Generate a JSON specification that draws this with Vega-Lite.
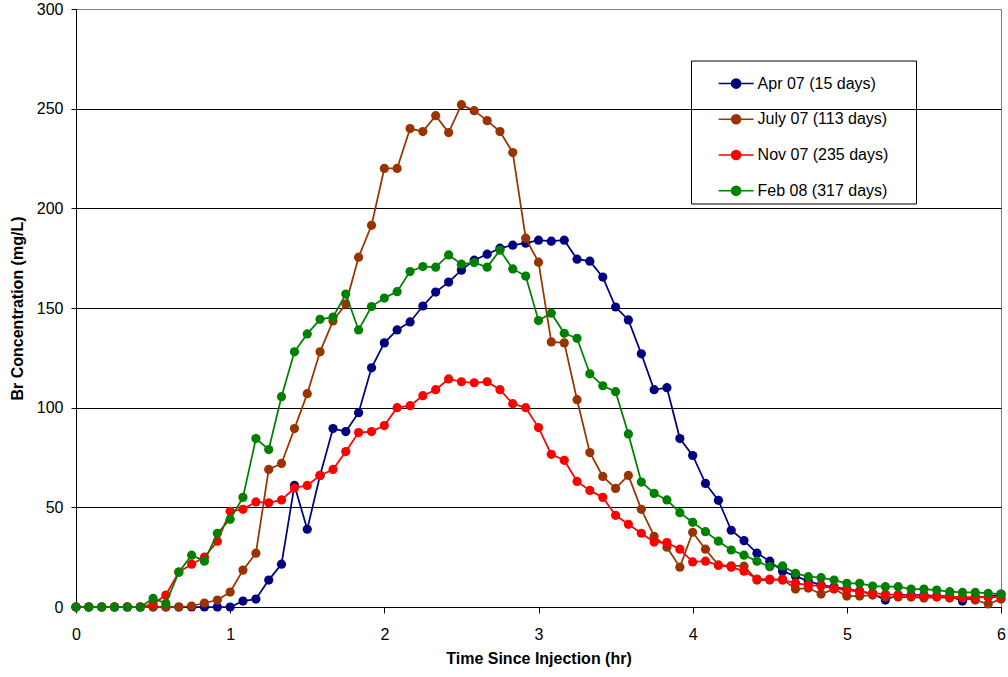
{
  "$schema": "https://vega.github.io/schema/vega-lite/v6.json",
  "width": 925,
  "height": 598,
  "autosize": {"type": "none"},
  "padding": {"left": 76, "top": 9, "right": 7, "bottom": 70},
  "background": "white",
  "config": {
    "font": "Liberation Sans",
    "view": {"stroke": "#808080", "strokeWidth": 1},
    "axis": {
      "labelFont": "Liberation Sans",
      "labelFontSize": 16,
      "labelColor": "#000",
      "labelFlush": false,
      "titleFont": "Liberation Sans",
      "titleFontSize": 16,
      "titleFontWeight": "bold",
      "titleColor": "#000",
      "domainColor": "#000",
      "tickColor": "#000",
      "domainWidth": 1,
      "tickWidth": 1
    }
  },
  "datasets": {
    "apr": [
      {"t":0,"c":0},{"t":0.083,"c":0},{"t":0.167,"c":0},{"t":0.25,"c":0},{"t":0.333,"c":0},{"t":0.417,"c":0},
      {"t":0.5,"c":0},{"t":0.583,"c":0},{"t":0.667,"c":0},{"t":0.75,"c":0},{"t":0.833,"c":0},{"t":0.917,"c":0},
      {"t":1,"c":0},{"t":1.083,"c":3},{"t":1.167,"c":4},{"t":1.25,"c":13.5},{"t":1.333,"c":21.5},{"t":1.417,"c":61},
      {"t":1.5,"c":39},{"t":1.583,"c":66},{"t":1.667,"c":89.5},{"t":1.75,"c":88},{"t":1.833,"c":97.5},{"t":1.917,"c":120},
      {"t":2,"c":132.5},{"t":2.083,"c":139},{"t":2.167,"c":143},{"t":2.25,"c":151},{"t":2.333,"c":158},{"t":2.417,"c":163},
      {"t":2.5,"c":169},{"t":2.583,"c":174},{"t":2.667,"c":177},{"t":2.75,"c":180},{"t":2.833,"c":181.5},{"t":2.917,"c":182.5},
      {"t":3,"c":184},{"t":3.083,"c":183.5},{"t":3.167,"c":184},{"t":3.25,"c":174.5},{"t":3.333,"c":173.5},{"t":3.417,"c":165.5},
      {"t":3.5,"c":150.5},{"t":3.583,"c":144},{"t":3.667,"c":127},{"t":3.75,"c":109},{"t":3.833,"c":110},{"t":3.917,"c":84.5},
      {"t":4,"c":76},{"t":4.083,"c":62},{"t":4.167,"c":53.5},{"t":4.25,"c":38.5},{"t":4.333,"c":33.3},{"t":4.417,"c":27},
      {"t":4.5,"c":23},{"t":4.583,"c":18},{"t":4.667,"c":15.5},{"t":4.75,"c":13},{"t":4.833,"c":11},{"t":4.917,"c":10},
      {"t":5,"c":9},{"t":5.083,"c":8},{"t":5.167,"c":6.5},{"t":5.25,"c":3.5},{"t":5.333,"c":6},{"t":5.417,"c":6},
      {"t":5.5,"c":6},{"t":5.583,"c":5.5},{"t":5.667,"c":5.5},{"t":5.75,"c":3},{"t":5.833,"c":5},{"t":5.917,"c":5},
      {"t":6,"c":6.5}
    ],
    "jul": [
      {"t":0,"c":0},{"t":0.083,"c":0},{"t":0.167,"c":0},{"t":0.25,"c":0},{"t":0.333,"c":0},{"t":0.417,"c":0},
      {"t":0.5,"c":0},{"t":0.583,"c":0},{"t":0.667,"c":0},{"t":0.75,"c":0.5},{"t":0.833,"c":2},{"t":0.917,"c":3.5},
      {"t":1,"c":7.5},{"t":1.083,"c":18.5},{"t":1.167,"c":27},{"t":1.25,"c":69},{"t":1.333,"c":72},{"t":1.417,"c":89.5},
      {"t":1.5,"c":107},{"t":1.583,"c":128},{"t":1.667,"c":143.5},{"t":1.75,"c":152},{"t":1.833,"c":175.5},{"t":1.917,"c":191.5},
      {"t":2,"c":220},{"t":2.083,"c":220},{"t":2.167,"c":240},{"t":2.25,"c":238.5},{"t":2.333,"c":246.5},{"t":2.417,"c":238},
      {"t":2.5,"c":252},{"t":2.583,"c":249},{"t":2.667,"c":244},{"t":2.75,"c":238.5},{"t":2.833,"c":228},{"t":2.917,"c":185},
      {"t":3,"c":173},{"t":3.083,"c":133},{"t":3.167,"c":132.5},{"t":3.25,"c":104},{"t":3.333,"c":77.5},{"t":3.417,"c":65.5},
      {"t":3.5,"c":59.5},{"t":3.583,"c":66},{"t":3.667,"c":49},{"t":3.75,"c":35.5},{"t":3.833,"c":30},{"t":3.917,"c":20},
      {"t":4,"c":37.5},{"t":4.083,"c":29},{"t":4.167,"c":21},{"t":4.25,"c":20.7},{"t":4.333,"c":20.5},{"t":4.417,"c":13.5},
      {"t":4.5,"c":13.5},{"t":4.583,"c":14},{"t":4.667,"c":9},{"t":4.75,"c":9.5},{"t":4.833,"c":6.5},{"t":4.917,"c":9},
      {"t":5,"c":5.5},{"t":5.083,"c":5.5},{"t":5.167,"c":6},{"t":5.25,"c":5},{"t":5.333,"c":5},{"t":5.417,"c":5},
      {"t":5.5,"c":4.5},{"t":5.583,"c":5},{"t":5.667,"c":4.5},{"t":5.75,"c":4.5},{"t":5.833,"c":3.5},{"t":5.917,"c":1.5},
      {"t":6,"c":4}
    ],
    "nov": [
      {"t":0,"c":0},{"t":0.083,"c":0},{"t":0.167,"c":0},{"t":0.25,"c":0},{"t":0.333,"c":0},{"t":0.417,"c":0},
      {"t":0.5,"c":1.5},{"t":0.583,"c":6},{"t":0.667,"c":17.5},{"t":0.75,"c":21.5},{"t":0.833,"c":25},{"t":0.917,"c":33},
      {"t":1,"c":48},{"t":1.083,"c":49},{"t":1.167,"c":52.7},{"t":1.25,"c":52.3},{"t":1.333,"c":53.7},{"t":1.417,"c":59.7},
      {"t":1.5,"c":61},{"t":1.583,"c":66},{"t":1.667,"c":69},{"t":1.75,"c":78},{"t":1.833,"c":87.5},{"t":1.917,"c":88},
      {"t":2,"c":91},{"t":2.083,"c":100},{"t":2.167,"c":101},{"t":2.25,"c":106},{"t":2.333,"c":109},{"t":2.417,"c":114.4},
      {"t":2.5,"c":113},{"t":2.583,"c":112.5},{"t":2.667,"c":113},{"t":2.75,"c":109},{"t":2.833,"c":102},{"t":2.917,"c":100},
      {"t":3,"c":90},{"t":3.083,"c":76.6},{"t":3.167,"c":73.6},{"t":3.25,"c":63},{"t":3.333,"c":58.5},{"t":3.417,"c":55},
      {"t":3.5,"c":46},{"t":3.583,"c":41.5},{"t":3.667,"c":37},{"t":3.75,"c":32.6},{"t":3.833,"c":32.3},{"t":3.917,"c":29},
      {"t":4,"c":22.6},{"t":4.083,"c":23},{"t":4.167,"c":21},{"t":4.25,"c":20},{"t":4.333,"c":18},{"t":4.417,"c":14},
      {"t":4.5,"c":14},{"t":4.583,"c":13.5},{"t":4.667,"c":12},{"t":4.75,"c":11},{"t":4.833,"c":10.5},{"t":4.917,"c":9.4},
      {"t":5,"c":8.5},{"t":5.083,"c":7.7},{"t":5.167,"c":7},{"t":5.25,"c":6.4},{"t":5.333,"c":6},{"t":5.417,"c":5.7},
      {"t":5.5,"c":5.5},{"t":5.583,"c":5.2},{"t":5.667,"c":5.2},{"t":5.75,"c":5},{"t":5.833,"c":5},{"t":5.917,"c":5},
      {"t":6,"c":5}
    ],
    "feb": [
      {"t":0,"c":0},{"t":0.083,"c":0},{"t":0.167,"c":0},{"t":0.25,"c":0},{"t":0.333,"c":0},{"t":0.417,"c":0},
      {"t":0.5,"c":4.3},{"t":0.583,"c":1.8},{"t":0.667,"c":17.5},{"t":0.75,"c":26},{"t":0.833,"c":23},{"t":0.917,"c":37},
      {"t":1,"c":44},{"t":1.083,"c":55},{"t":1.167,"c":84.5},{"t":1.25,"c":79},{"t":1.333,"c":105.5},{"t":1.417,"c":128},
      {"t":1.5,"c":137},{"t":1.583,"c":144.3},{"t":1.667,"c":145.4},{"t":1.75,"c":157},{"t":1.833,"c":139},{"t":1.917,"c":150.7},
      {"t":2,"c":155},{"t":2.083,"c":158.2},{"t":2.167,"c":168.3},{"t":2.25,"c":170.8},{"t":2.333,"c":170.5},{"t":2.417,"c":176.6},
      {"t":2.5,"c":172},{"t":2.583,"c":172.8},{"t":2.667,"c":170.5},{"t":2.75,"c":179},{"t":2.833,"c":169.6},{"t":2.917,"c":166},
      {"t":3,"c":143.7},{"t":3.083,"c":147.4},{"t":3.167,"c":137.3},{"t":3.25,"c":134.8},{"t":3.333,"c":117},{"t":3.417,"c":111},
      {"t":3.5,"c":108},{"t":3.583,"c":86.8},{"t":3.667,"c":62.7},{"t":3.75,"c":57},{"t":3.833,"c":53.7},{"t":3.917,"c":47.3},
      {"t":4,"c":42.5},{"t":4.083,"c":37.8},{"t":4.167,"c":33},{"t":4.25,"c":28.6},{"t":4.333,"c":26},{"t":4.417,"c":23},
      {"t":4.5,"c":20.2},{"t":4.583,"c":20.6},{"t":4.667,"c":16.9},{"t":4.75,"c":15.2},{"t":4.833,"c":14.7},{"t":4.917,"c":13.5},
      {"t":5,"c":11.9},{"t":5.083,"c":11.9},{"t":5.167,"c":10.5},{"t":5.25,"c":10.2},{"t":5.333,"c":10.2},{"t":5.417,"c":9},
      {"t":5.5,"c":9},{"t":5.583,"c":8.5},{"t":5.667,"c":7.7},{"t":5.75,"c":7.3},{"t":5.833,"c":7.3},{"t":5.917,"c":6.9},
      {"t":6,"c":6.4}
    ]
  },
  "encoding": {
    "x": {
      "field": "t", "type": "quantitative",
      "scale": {"domain": [0, 6], "nice": false, "zero": false},
      "axis": {
        "title": "Time Since Injection (hr)",
        "values": [0, 1, 2, 3, 4, 5, 6],
        "format": "d",
        "grid": false,
        "tickSize": 6,
        "labelPadding": 13,
        "titlePadding": 8
      }
    },
    "y": {
      "field": "c", "type": "quantitative",
      "scale": {"domain": [0, 300], "nice": false},
      "axis": {
        "title": "Br Concentration (mg/L)",
        "values": [0, 50, 100, 150, 200, 250, 300],
        "grid": true,
        "gridColor": {"condition": {"test": "datum.value == 300", "value": "#808080"}, "value": "#000"},
        "gridWidth": 1,
        "tickSize": 5,
        "labelPadding": 8,
        "titlePadding": 11
      }
    }
  },
  "layer": [
    {
      "data": {"name": "apr"},
      "mark": {"type": "line", "strokeWidth": 1.75, "point": {"filled": true, "size": 85, "opacity": 1}},
      "encoding": {
        "color": {
          "datum": "Apr 07 (15 days)",
          "type": "nominal",
          "scale": {
            "domain": ["Apr 07 (15 days)", "July 07 (113 days)", "Nov 07 (235 days)", "Feb 08 (317 days)"],
            "range": ["#000080", "#993300", "#FF0000", "#008000"]
          },
          "legend": {
            "title": null,
            "orient": "none",
            "legendX": 615,
            "legendY": 51.5,
            "direction": "vertical",
            "strokeColor": "#000",
            "padding": 4.6,
            "symbolType": "M-1,0H1M-0.26,0A0.26,0.26,0,1,1,0.26,0A0.26,0.26,0,1,1,-0.26,0Z",
            "symbolSize": 1225,
            "symbolStrokeWidth": 1.5,
            "symbolOffset": 22,
            "labelOffset": 3,
            "labelFont": "Liberation Sans",
            "labelFontSize": 16,
            "labelColor": "#000",
            "rowPadding": 8.7,
            "labelExpr": "datum.label + '\u00a0\u00a0\u00a0\u00a0\u00a0\u200b'",
            "encode": {
              "symbols": {
                "update": {
                  "fill": {"scale": "color", "field": "value"},
                  "stroke": {"scale": "color", "field": "value"},
                  "opacity": {"value": 1}
                }
              }
            }
          }
        }
      }
    },
    {
      "data": {"name": "jul"},
      "mark": {"type": "line", "strokeWidth": 1.75, "point": {"filled": true, "size": 85, "opacity": 1}},
      "encoding": {"color": {"datum": "July 07 (113 days)", "type": "nominal"}}
    },
    {
      "data": {"name": "nov"},
      "mark": {"type": "line", "strokeWidth": 1.75, "point": {"filled": true, "size": 85, "opacity": 1}},
      "encoding": {"color": {"datum": "Nov 07 (235 days)", "type": "nominal"}}
    },
    {
      "data": {"name": "feb"},
      "mark": {"type": "line", "strokeWidth": 1.75, "point": {"filled": true, "size": 85, "opacity": 1}},
      "encoding": {"color": {"datum": "Feb 08 (317 days)", "type": "nominal"}}
    },
    {
      "data": {"values": [{"label": "(a)"}]},
      "mark": {"type": "text", "fontSize": 24, "fontWeight": "bold", "font": "Liberation Sans", "color": "#000", "align": "center", "baseline": "middle"},
      "encoding": {
        "x": {"datum": 0.447, "type": "quantitative"},
        "y": {"datum": 275, "type": "quantitative"},
        "text": {"field": "label", "type": "nominal"}
      }
    }
  ]
}
